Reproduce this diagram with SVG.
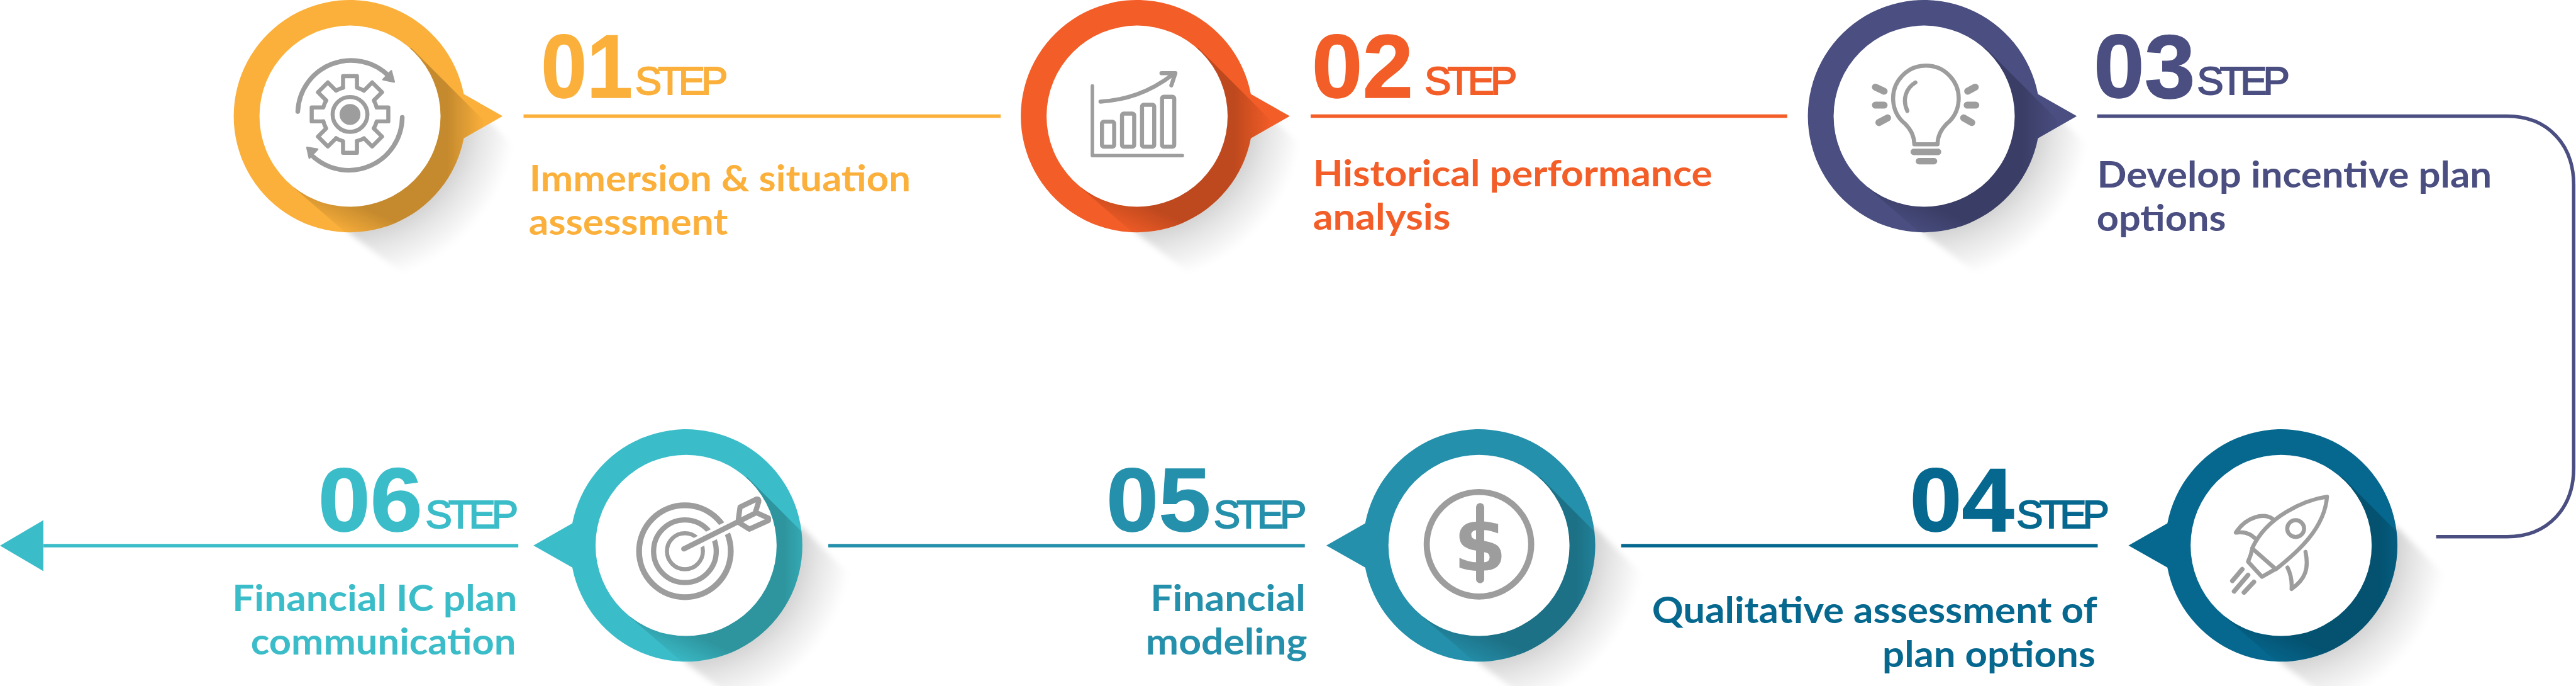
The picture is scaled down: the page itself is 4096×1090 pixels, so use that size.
<svg xmlns="http://www.w3.org/2000/svg" xmlns:xlink="http://www.w3.org/1999/xlink" width="4096" height="1090" viewBox="0 0 4096 1090">
<style>
.c1{fill:#FBB03B}.c2{fill:#F35D27}.c3{fill:#4A4E80}.c4{fill:#06688F}.c5{fill:#2590AB}.c6{fill:#3BBDC9}
.num{font-family:"Liberation Sans",Arial,sans-serif;font-weight:700;font-size:154px;stroke-width:1.5px}
.step{font-family:"Liberation Sans",Arial,sans-serif;font-size:69px;stroke-width:2px}
.lab{font-family:Lato,"Open Sans",sans-serif;font-weight:700;font-size:62px}
.ic{fill:none;stroke:#9D9D9D;stroke-width:7;stroke-linecap:round;stroke-linejoin:round}
.gy{fill:#9D9D9D;stroke:#9D9D9D;stroke-width:3;stroke-linejoin:round}
.ln{fill:none;stroke-width:6}
</style>
<defs>
<path id="blob-r" d="M196 -38L263 0L196 38A200 200 0 1 1 196 -38Z"/>
<path id="blob-l" d="M-196 -38L-263 0L-196 38A200 200 0 1 0 -196 -38Z"/>
<clipPath id="clip-r"><use xlink:href="#blob-r"/></clipPath>
<clipPath id="clip-l"><use xlink:href="#blob-l"/></clipPath>
<radialGradient id="gnd" gradientUnits="userSpaceOnUse" cx="0" cy="0" r="285">
<stop offset="0.68" stop-color="#000" stop-opacity="0.18"/>
<stop offset="0.8" stop-color="#000" stop-opacity="0.1"/>
<stop offset="1" stop-color="#000" stop-opacity="0"/>
</radialGradient>
<linearGradient id="fx" gradientUnits="userSpaceOnUse" x1="168" y1="0" x2="232" y2="0">
<stop offset="0" stop-color="#fff"/><stop offset="1" stop-color="#000"/>
</linearGradient>
<linearGradient id="fy" gradientUnits="userSpaceOnUse" x1="20" y1="155" x2="-5" y2="210">
<stop offset="0" stop-color="#000" stop-opacity="0"/><stop offset="1" stop-color="#000" stop-opacity="1"/>
</linearGradient>
<mask id="fade" maskUnits="userSpaceOnUse" x="-300" y="-300" width="700" height="700">
<rect x="-300" y="-300" width="700" height="700" fill="url(#fx)"/>
<rect x="-300" y="-300" width="700" height="700" fill="url(#fy)"/>
</mask>
<filter id="soft" x="-20%" y="-20%" width="140%" height="140%"><feGaussianBlur stdDeviation="5"/></filter>
<path id="ground" d="M199 -32L290 60L290 290L90 270L-3 200L0 0Z" fill="url(#gnd)" filter="url(#soft)"/>
<path id="band" d="M105 -118L320 97L320 320L90 285L-97 123Z" fill="#000" fill-opacity="0.21" mask="url(#fade)"/>
<path id="sector" class="ic" d="M-12 -46V-66H12V-46A47.5 47.5 0 0 1 24 -41"/>
<marker id="end" markerUnits="userSpaceOnUse" markerWidth="75" markerHeight="88" refX="0" refY="44" orient="auto"><path class="c6" d="M0 0L75 44L0 88Z"/></marker>
</defs>
<g transform="scale(0.92294)">
<rect width="4438" height="1181" fill="#fff"/>

<g id="connectors">
<path class="ln" stroke="#FBB03B" d="M902 200H1724"/>
<path class="ln" stroke="#F35D27" d="M2258 200H3079"/>
<path class="ln" stroke="#4A4E80" d="M3613 200H4319C4390 200 4434 250 4434 318V806C4434 874 4390 924 4319 924H4197"/>
<path class="ln" stroke="#06688F" d="M3614 939.5H2793"/>
<path class="ln" stroke="#2590AB" d="M2248 939.5H1427"/>
<path class="ln" stroke="#3BBDC9" d="M893 939.5H75" marker-end="url(#end)"/>
</g>

<g id="node1" transform="translate(603 200)">
<use xlink:href="#ground"/><use xlink:href="#blob-r" class="c1"/><g clip-path="url(#clip-r)"><use xlink:href="#band"/></g><circle r="156" fill="#fff"/>
<g transform="translate(0 -3)">
<use xlink:href="#sector"/><use xlink:href="#sector" transform="rotate(45)"/><use xlink:href="#sector" transform="rotate(90)"/><use xlink:href="#sector" transform="rotate(135)"/><use xlink:href="#sector" transform="rotate(180)"/><use xlink:href="#sector" transform="rotate(225)"/><use xlink:href="#sector" transform="rotate(270)"/><use xlink:href="#sector" transform="rotate(315)"/>
<circle r="30" class="ic"/><circle r="18" fill="#9D9D9D"/>
</g>
<path class="ic" style="stroke-width:8" d="M-90 -8A92 92 0 0 1 67 -69M90 2A92 92 0 0 1 -63 70"/>
<path class="gy" d="M71 -78L76 -59L57 -63ZM-74 54L-56 57L-70 72Z"/>
</g>
<g id="node1-text">
<text class="num c1" stroke="#FBB03B" x="932" y="167.5" textLength="158" lengthAdjust="spacingAndGlyphs">01</text>
<text class="step c1" stroke="#FBB03B" x="1094" y="163" textLength="160">STEP</text>
<text class="lab c1" x="912" y="329" textLength="657" lengthAdjust="spacingAndGlyphs">Immersion &amp; situation</text>
<text class="lab c1" x="911" y="404" textLength="343" lengthAdjust="spacingAndGlyphs">assessment</text>
</g>

<g id="node2" transform="translate(1959 200)">
<use xlink:href="#ground"/><use xlink:href="#blob-r" class="c2"/><g clip-path="url(#clip-r)"><use xlink:href="#band"/></g><circle r="156" fill="#fff"/>
<path class="ic" d="M-77 -52V68H78" style="stroke-width:6"/>
<rect class="ic" x="-60.500" y="9.500" width="21" height="43" rx="3"/>
<rect class="ic" x="-26" y="-4.500" width="21" height="57" rx="3"/>
<rect class="ic" x="8.500" y="-19.500" width="21" height="72" rx="3"/>
<rect class="ic" x="43" y="-33.500" width="21" height="86" rx="3"/>
<path class="ic" d="M-63 -25C-20 -28 20 -40 62 -72M42 -74H66L59 -53"/>
</g>
<g id="node2-text">
<text class="num c2" stroke="#F35D27" x="2260" y="167.5" textLength="175" lengthAdjust="spacingAndGlyphs">02</text>
<text class="step c2" stroke="#F35D27" x="2454" y="163" textLength="160">STEP</text>
<text class="lab c2" x="2262" y="321" textLength="688" lengthAdjust="spacingAndGlyphs">Historical performance</text>
<text class="lab c2" x="2262" y="396" textLength="237" lengthAdjust="spacingAndGlyphs">analysis</text>
</g>

<g id="node3" transform="translate(3315 200)">
<use xlink:href="#ground"/><use xlink:href="#blob-r" class="c3"/><g clip-path="url(#clip-r)"><use xlink:href="#band"/></g><circle r="156" fill="#fff"/>
<path class="ic" d="M-17 48.500C-17 35 -24 22 -33 13A56.500 56.500 0 1 1 39 13C30 22 23 35 23 48.500Z"/>
<path class="ic" d="M-15 -58C-32 -48 -38 -28 -29 -9"/>
<path class="ic" style="stroke-width:11" d="M-18 61.500H24M-9 77.500H17"/>
<path class="ic" style="stroke-width:12" d="M-84 -50L-69 -43M-84 -19H-69M-63 3L-78 11M88 -50L75 -43M89 -19H74M68 3L82 11"/>
</g>
<g id="node3-text">
<text class="num c3" stroke="#4A4E80" x="3607" y="167.5" textLength="175" lengthAdjust="spacingAndGlyphs">03</text>
<text class="step c3" stroke="#4A4E80" x="3785" y="163" textLength="160">STEP</text>
<text class="lab c3" x="3613" y="323" textLength="680" lengthAdjust="spacingAndGlyphs">Develop incentive plan</text>
<text class="lab c3" x="3612" y="398" textLength="223" lengthAdjust="spacingAndGlyphs">options</text>
</g>

<g id="node4" transform="translate(3930 939)">
<use xlink:href="#ground"/><use xlink:href="#blob-l" class="c4"/><g clip-path="url(#clip-l)"><use xlink:href="#band"/></g><circle r="156" fill="#fff"/>
<path class="ic" d="M79 -84C40 -78 -25 -50 -50 5L-9 41C30 10 75 -30 79 -84Z"/>
<circle class="ic" cx="25" cy="-29" r="14.500"/>
<path class="ic" d="M-15 -46C-30 -56 -60 -50 -78 -22C-68 -24 -55 -22 -46 -13M42 11C48 40 42 58 18 75C19 60 16 48 11 38M-51 10C-52 18 -55 22 -57 28L-33 54L-12 42"/>
<path class="ic" style="stroke-width:8" d="M-67 41L-84 61M-57 51L-81 79M-47 63L-64 81"/>
</g>
<g id="node4-text">
<text class="num c4" stroke="#06688F" x="3290" y="914" textLength="180" lengthAdjust="spacingAndGlyphs">04</text>
<text class="step c4" stroke="#06688F" x="3474" y="909" textLength="160">STEP</text>
<text class="lab c4" x="2846" y="1073" textLength="767" lengthAdjust="spacingAndGlyphs">Qualitative assessment of</text>
<text class="lab c4" x="3243" y="1148" textLength="367" lengthAdjust="spacingAndGlyphs">plan options</text>
</g>

<g id="node5" transform="translate(2548 939)">
<use xlink:href="#ground"/><use xlink:href="#blob-l" class="c5"/><g clip-path="url(#clip-l)"><use xlink:href="#band"/></g><circle r="156" fill="#fff"/>
<circle class="ic" cy="-2" r="90" style="stroke-width:10.500"/>
<text x="2" y="44" text-anchor="middle" font-family="'DejaVu Sans',sans-serif" font-weight="700" font-size="132" fill="#9D9D9D">$</text>
<path class="ic" style="stroke-width:14" d="M2 -66V58"/>
</g>
<g id="node5-text">
<text class="num c5" stroke="#2590AB" x="1906" y="914" textLength="180" lengthAdjust="spacingAndGlyphs">05</text>
<text class="step c5" stroke="#2590AB" x="2091" y="909" textLength="160">STEP</text>
<text class="lab c5" x="1982" y="1052" textLength="267" lengthAdjust="spacingAndGlyphs">Financial</text>
<text class="lab c5" x="1974" y="1127" textLength="278" lengthAdjust="spacingAndGlyphs">modeling</text>
</g>

<g id="node6" transform="translate(1182 939)">
<use xlink:href="#ground"/><use xlink:href="#blob-l" class="c6"/><g clip-path="url(#clip-l)"><use xlink:href="#band"/></g><circle r="156" fill="#fff"/>
<circle class="ic" cx="-2" cy="10" r="79" style="stroke-width:10"/>
<circle class="ic" cx="-2" cy="10" r="54" style="stroke-width:9"/>
<circle class="ic" cx="-2" cy="10" r="31"/>
<path d="M10 0L100 -46" fill="none" stroke="#fff" stroke-width="20"/>
<path class="ic" style="stroke-width:9" d="M-4 6L120 -56M90 -44L93 -66L122 -80Q126 -80 125 -75L119 -56M93 -38L109 -28L142 -43L142 -47L122 -56"/>
</g>
<g id="node6-text">
<text class="num c6" stroke="#3BBDC9" x="548" y="914" textLength="180" lengthAdjust="spacingAndGlyphs">06</text>
<text class="step c6" stroke="#3BBDC9" x="733" y="909" textLength="160">STEP</text>
<text class="lab c6" x="400" y="1052" textLength="491" lengthAdjust="spacingAndGlyphs">Financial IC plan</text>
<text class="lab c6" x="432" y="1127" textLength="457" lengthAdjust="spacingAndGlyphs">communication</text>
</g>
</g>
</svg>
